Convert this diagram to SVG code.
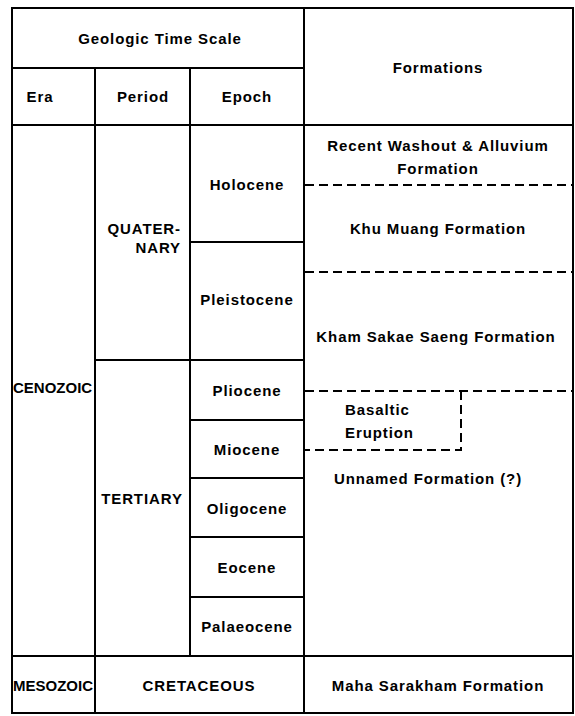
<svg xmlns="http://www.w3.org/2000/svg" width="575" height="716" viewBox="0 0 575 716">
<style>
  .ln { stroke: #000; stroke-width: 2; fill: none; }
  .dash { stroke: #000; stroke-width: 2; fill: none; stroke-dasharray: 9 5; }
  text { font-family: "Liberation Sans", Arial, sans-serif; font-weight: bold; font-size: 15px; letter-spacing: 0.9px; fill: #000; }
  .c { text-anchor: middle; }
  .era { letter-spacing: 0px; }
</style>
<rect width="575" height="716" fill="#fff"/>
<g id="grid">
  <rect class="ln" x="12" y="8" width="561" height="705"/>
  <line class="ln" x1="304" y1="8" x2="304" y2="713"/>
  <line class="ln" x1="12" y1="68" x2="304" y2="68"/>
  <line class="ln" x1="12" y1="125" x2="573" y2="125"/>
  <line class="ln" x1="95" y1="68" x2="95" y2="713"/>
  <line class="ln" x1="190" y1="68" x2="190" y2="656"/>
  <line class="ln" x1="190" y1="242" x2="304" y2="242"/>
  <line class="ln" x1="95" y1="360" x2="304" y2="360"/>
  <line class="ln" x1="190" y1="420" x2="304" y2="420"/>
  <line class="ln" x1="190" y1="478" x2="304" y2="478"/>
  <line class="ln" x1="190" y1="537" x2="304" y2="537"/>
  <line class="ln" x1="190" y1="597" x2="304" y2="597"/>
  <line class="ln" x1="12" y1="656" x2="573" y2="656"/>
</g>
<g id="header">
  <text class="c" x="160" y="44">Geologic Time Scale</text>
  <text class="c" x="438" y="73">Formations</text>
  <text class="c" x="40" y="102">Era</text>
  <text class="c" x="143" y="102">Period</text>
  <text class="c" x="247" y="102">Epoch</text>
</g>
<g id="era-cenozoic"><text class="era" x="13" y="393">CENOZOIC</text></g>
<g id="era-mesozoic"><text class="era" x="13" y="691">MESOZOIC</text></g>
<g id="period-quaternary">
  <text x="181" y="234" text-anchor="end">QUATER-</text>
  <text x="181" y="253" text-anchor="end">NARY</text>
</g>
<g id="period-tertiary"><text class="c" x="142" y="504">TERTIARY</text></g>
<g id="period-cretaceous"><text class="c" x="199" y="691">CRETACEOUS</text></g>
<g id="epoch-holocene"><text class="c" x="247" y="190">Holocene</text></g>
<g id="epoch-pleistocene"><text class="c" x="247" y="305">Pleistocene</text></g>
<g id="epoch-pliocene"><text class="c" x="247" y="396">Pliocene</text></g>
<g id="epoch-miocene"><text class="c" x="247" y="455">Miocene</text></g>
<g id="epoch-oligocene"><text class="c" x="247" y="514">Oligocene</text></g>
<g id="epoch-eocene"><text class="c" x="247" y="573">Eocene</text></g>
<g id="epoch-palaeocene"><text class="c" x="247" y="632">Palaeocene</text></g>
<g id="fm-recent">
  <text class="c" x="438" y="151">Recent Washout &amp; Alluvium</text>
  <text class="c" x="438" y="174">Formation</text>
</g>
<g id="fm-khumuang"><text class="c" x="438" y="234">Khu Muang Formation</text></g>
<g id="fm-khamsakae"><text class="c" x="436" y="342">Kham Sakae Saeng Formation</text></g>
<g id="fm-basaltic">
  <text x="345" y="415">Basaltic</text>
  <text x="345" y="438">Eruption</text>
</g>
<g id="fm-unnamed"><text class="c" x="428" y="484">Unnamed Formation (?)</text></g>
<g id="fm-maha"><text class="c" x="438" y="691">Maha Sarakham Formation</text></g>
<g id="connectors">
  <line class="dash" x1="305" y1="185" x2="573" y2="185"/>
  <line class="dash" x1="305" y1="272" x2="573" y2="272"/>
  <line class="dash" x1="305" y1="391" x2="573" y2="391"/>
  <polyline class="dash" points="461,391 461,450 305,450"/>
</g>
</svg>
